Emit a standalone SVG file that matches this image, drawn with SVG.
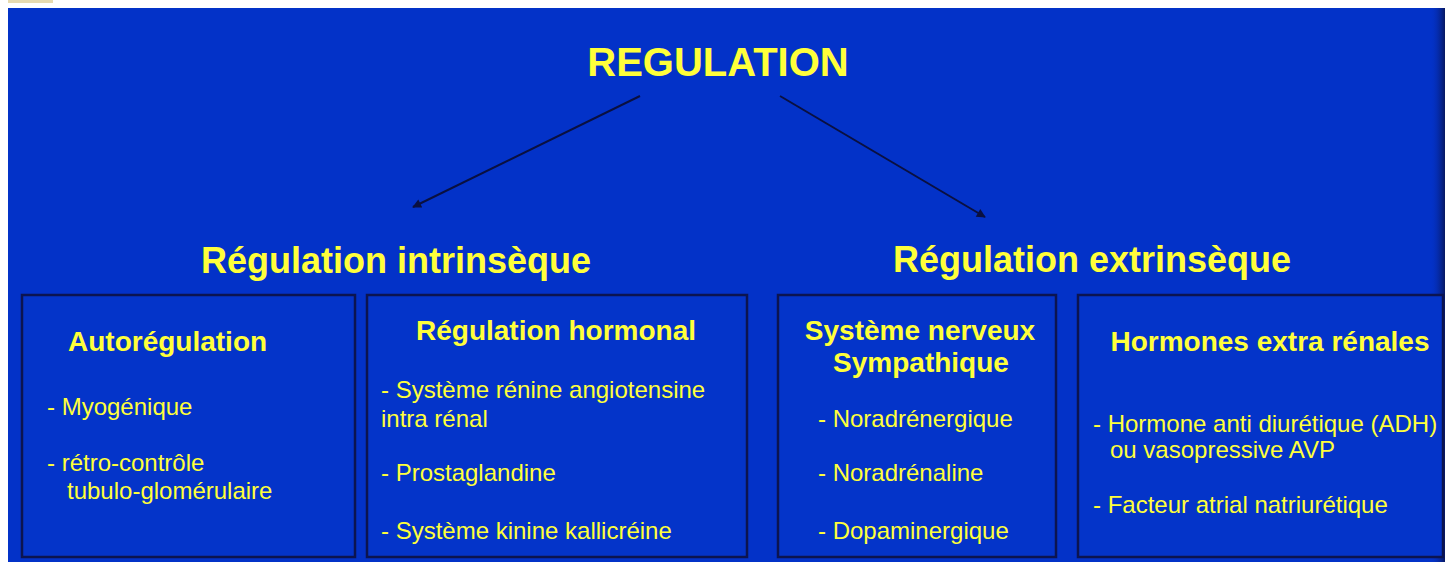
<svg xmlns="http://www.w3.org/2000/svg" width="1453" height="562" viewBox="0 0 1453 562">
  <defs>
    <style>
      .t { font-family: "Liberation Sans", Arial, sans-serif; fill: #ffff3a; }
      .b { font-weight: bold; }
      .h1 { font-size: 40px; }
      .h2 { font-size: 36px; }
      .h3 { font-size: 28px; }
      .p { font-size: 24px; }
      .box { fill: #0434c9; stroke: #0c1450; stroke-width: 2.5; }
      .conn { stroke: #0a1040; stroke-width: 2; fill: none; }
    </style>
    <marker id="ah" viewBox="0 0 10 10" refX="9" refY="5" markerWidth="12" markerHeight="9" orient="auto" markerUnits="userSpaceOnUse">
      <path d="M0,0 L10,5 L0,10 z" fill="#0a1040"/>
    </marker>
    <linearGradient id="edge" x1="0" y1="0" x2="1" y2="0">
      <stop offset="0" stop-color="#0332c8" stop-opacity="0"/>
      <stop offset="1" stop-color="#081860"/>
    </linearGradient>
  </defs>

  <rect x="0" y="0" width="1453" height="562" fill="#ffffff"/>
  <rect x="8" y="0" width="45" height="3" fill="#e6dab0"/>
  <rect x="8" y="8" width="1437" height="554" fill="#0332c8"/>
  <rect x="1430" y="8" width="15" height="554" fill="url(#edge)"/>

  <g id="connectors">
    <line class="conn" x1="640" y1="96" x2="413" y2="207" marker-end="url(#ah)"/>
    <line class="conn" x1="780" y1="96" x2="985" y2="217" marker-end="url(#ah)"/>
  </g>

  <g id="regulation">
    <text class="t b h1" x="718" y="76" text-anchor="middle">REGULATION</text>
  </g>

  <g id="intrinseque">
    <text class="t b h2" x="396" y="273" text-anchor="middle">Régulation intrinsèque</text>
  </g>

  <g id="extrinseque">
    <text class="t b h2" x="1092" y="272" text-anchor="middle">Régulation extrinsèque</text>
  </g>

  <g id="autoregulation">
    <rect class="box" x="22" y="295" width="333" height="262"/>
    <text class="t b h3" x="68" y="351">Autorégulation</text>
    <text class="t p" x="47" y="415">- Myogénique</text>
    <text class="t p" x="47" y="471">- rétro-contrôle</text>
    <text class="t p" x="67" y="499">tubulo-glomérulaire</text>
  </g>

  <g id="hormonal">
    <rect class="box" x="367" y="295" width="380" height="262"/>
    <text class="t b h3" x="556" y="340" text-anchor="middle">Régulation hormonal</text>
    <text class="t p" x="381" y="398">- Système rénine angiotensine</text>
    <text class="t p" x="381" y="427">intra rénal</text>
    <text class="t p" x="381" y="481">- Prostaglandine</text>
    <text class="t p" x="381" y="539">- Système kinine kallicréine</text>
  </g>

  <g id="sympathique">
    <rect class="box" x="778" y="295" width="278" height="262"/>
    <text class="t b h3" x="920" y="340" text-anchor="middle">Système nerveux</text>
    <text class="t b h3" x="921" y="372" text-anchor="middle">Sympathique</text>
    <text class="t p" x="818" y="427">- Noradrénergique</text>
    <text class="t p" x="818" y="481">- Noradrénaline</text>
    <text class="t p" x="818" y="539">- Dopaminergique</text>
  </g>

  <g id="extra-renales">
    <rect class="box" x="1078" y="295" width="365" height="262"/>
    <text class="t b h3" x="1270" y="351" text-anchor="middle">Hormones extra rénales</text>
    <text class="t p" x="1093" y="432">- Hormone anti diurétique (ADH)</text>
    <text class="t p" x="1110" y="458">ou vasopressive AVP</text>
    <text class="t p" x="1093" y="513">- Facteur atrial natriurétique</text>
  </g>
</svg>
